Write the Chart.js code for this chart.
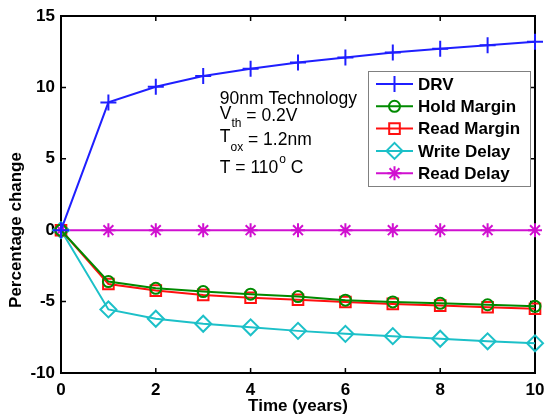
<!DOCTYPE html>
<html>
<head>
<meta charset="utf-8">
<script src="https://cdn.jsdelivr.net/npm/chart.js@4.4.1/dist/chart.umd.min.js"></script>
<style>
html, body { margin: 0; padding: 0; background: #fff; }
#wrap { width: 545px; height: 417px; }
</style>
</head>
<body>
<div id="wrap"><canvas id="chart"></canvas></div>
<script>
// values (percentage change vs time in years)
const years = [0, 1, 2, 3, 4, 5, 6, 7, 8, 9, 10];
const drv = [0, 8.95, 10.05, 10.8, 11.3, 11.75, 12.1, 12.45, 12.7, 12.95, 13.2];
const holdMargin = [0, -3.6, -4.07, -4.3, -4.48, -4.65, -4.9, -5.02, -5.12, -5.22, -5.33];
const readMargin = [0, -3.77, -4.23, -4.53, -4.73, -4.87, -5.03, -5.16, -5.28, -5.4, -5.5];
const writeDelay = [0, -5.55, -6.2, -6.55, -6.8, -7.05, -7.26, -7.42, -7.6, -7.78, -7.92];
const readDelay = [0, 0, 0, 0, 0, 0, 0, 0, 0, 0, 0];

const xTicks = [0, 2, 4, 6, 8, 10];
const yTicks = [-10, -5, 0, 5, 10, 15];

const FONT = 'Liberation Sans, Arial, sans-serif';

function series(label, values, color, style, radius) {
    return {
        label: label,
        data: years.map((x, i) => ({ x: x, y: values[i] })),
        borderColor: color,
        backgroundColor: color,
        borderWidth: 2,
        pointStyle: style,
        pointRadius: radius,
        pointHoverRadius: radius,
        pointBorderColor: color,
        pointBackgroundColor: 'rgba(0,0,0,0)',
        pointBorderWidth: 2,
        tension: 0,
        fill: false,
        clip: false
    };
}

const datasets = [
    series('DRV', drv, '#1f1fff', 'cross', 8),
    series('Hold Margin', holdMargin, '#008a00', 'circle', 5.5),
    series('Read Margin', readMargin, '#ff1010', 'rect', 7.5),
    series('Write Delay', writeDelay, '#1cc0c8', 'rectRot', 8),
    series('Read Delay', readDelay, '#d010d0', 'star', 7)
];

// axes box with MATLAB-style inward ticks
const boxPlugin = {
    id: 'box',
    beforeDatasetsDraw(chart) {
        const { ctx, chartArea: a, scales } = chart;
        ctx.save();
        ctx.strokeStyle = '#000';
        ctx.lineWidth = 2;
        ctx.strokeRect(a.left, a.top, a.right - a.left, a.bottom - a.top);
        ctx.lineWidth = 1.5;
        ctx.beginPath();
        xTicks.forEach(v => {
            const px = scales.x.getPixelForValue(v);
            ctx.moveTo(px, a.bottom); ctx.lineTo(px, a.bottom - 5);
            ctx.moveTo(px, a.top); ctx.lineTo(px, a.top + 5);
        });
        yTicks.forEach(v => {
            const py = scales.y.getPixelForValue(v);
            ctx.moveTo(a.left, py); ctx.lineTo(a.left + 5, py);
            ctx.moveTo(a.right, py); ctx.lineTo(a.right - 5, py);
        });
        ctx.stroke();

        // y axis title (sits low, as in the original)
        ctx.translate(16, 230);
        ctx.rotate(-Math.PI / 2);
        ctx.fillStyle = '#000';
        ctx.font = 'bold 17px ' + FONT;
        ctx.textAlign = 'center';
        ctx.textBaseline = 'middle';
        ctx.fillText('Percentage change', 0, 0);
        ctx.restore();
    }
};

// text block + legend box drawn on top
const notesPlugin = {
    id: 'notes',
    afterDraw(chart) {
        const { ctx, scales } = chart;
        const x0 = scales.x.getPixelForValue(3.35);
        ctx.save();
        ctx.fillStyle = '#000';
        ctx.textBaseline = 'middle';
        ctx.textAlign = 'left';
        const big = '17.5px ' + FONT;
        const small = '12px ' + FONT;

        ctx.font = big;
        ctx.fillText('90nm Technology', x0, 99);

        ctx.fillText('V', x0, 114);
        let w = ctx.measureText('V').width;
        ctx.font = small;
        ctx.fillText('th', x0 + w, 124);
        w += ctx.measureText('th').width;
        ctx.font = big;
        ctx.fillText(' = 0.2V', x0 + w, 116);

        ctx.fillText('T', x0, 137);
        w = ctx.measureText('T').width;
        ctx.font = small;
        ctx.fillText('ox', x0 + w, 148);
        w += ctx.measureText('ox').width;
        ctx.font = big;
        ctx.fillText(' = 1.2nm', x0 + w, 140);

        ctx.fillText('T = 110', x0, 168);
        w = ctx.measureText('T = 110').width;
        ctx.font = small;
        ctx.fillText('o', x0 + w + 1, 160);
        w += ctx.measureText('o').width + 1;
        ctx.font = big;
        ctx.fillText(' C', x0 + w, 168);

        // legend
        const lx = 368, ly = 71, lw = 162, lh = 115;
        ctx.fillStyle = '#fff';
        ctx.fillRect(lx, ly, lw, lh);
        ctx.strokeStyle = '#808080';
        ctx.lineWidth = 1;
        ctx.strokeRect(lx + 0.5, ly + 0.5, lw, lh);
        chart.data.datasets.forEach((ds, i) => {
            const y = ly + 13 + i * 22.3;
            ctx.strokeStyle = ds.borderColor;
            ctx.lineWidth = 2;
            ctx.beginPath();
            ctx.moveTo(lx + 8, y);
            ctx.lineTo(lx + 45, y);
            ctx.stroke();
            ctx.fillStyle = 'rgba(0,0,0,0)';
            Chart.helpers.drawPoint(ctx, {
                pointStyle: ds.pointStyle,
                radius: ds.pointRadius,
                rotation: 0,
                borderWidth: 2
            }, lx + 26.5, y);
            ctx.fillStyle = '#000';
            ctx.font = 'bold 17px ' + FONT;
            ctx.fillText(ds.label, lx + 50, y + 1);
        });
        ctx.restore();
    }
};

new Chart(document.getElementById('chart'), {
    type: 'line',
    data: { datasets: datasets },
    options: {
        responsive: true,
        maintainAspectRatio: false,
        animation: false,
        layout: { padding: { left: 0, top: 16, right: 9, bottom: 0 } },
        plugins: {
            legend: { display: false },
            tooltip: { enabled: false }
        },
        scales: {
            x: {
                type: 'linear',
                min: 0,
                max: 10,
                afterFit: s => { s.height = 44; s.paddingLeft = 0; s.paddingRight = 0; },
                afterBuildTicks: s => { s.ticks = xTicks.map(v => ({ value: v })); },
                grid: { display: false, drawTicks: false, tickLength: 0 },
                border: { display: false },
                ticks: {
                    color: '#000',
                    padding: 7,
                    font: { family: FONT, size: 17, weight: 'bold' }
                },
                title: {
                    display: true,
                    text: 'Time (years)',
                    color: '#000',
                    padding: { top: 0, bottom: 0 },
                    font: { family: FONT, size: 17, weight: 'bold' }
                }
            },
            y: {
                type: 'linear',
                min: -10,
                max: 15,
                afterFit: s => { s.width = 61; s.paddingTop = 0; s.paddingBottom = 0; },
                afterBuildTicks: s => { s.ticks = yTicks.map(v => ({ value: v })); },
                grid: { display: false, drawTicks: false, tickLength: 0 },
                border: { display: false },
                ticks: {
                    color: '#000',
                    padding: 6,
                    font: { family: FONT, size: 17, weight: 'bold' }
                },
                title: { display: false }
            }
        }
    },
    plugins: [boxPlugin, notesPlugin]
});
</script>
</body>
</html>
